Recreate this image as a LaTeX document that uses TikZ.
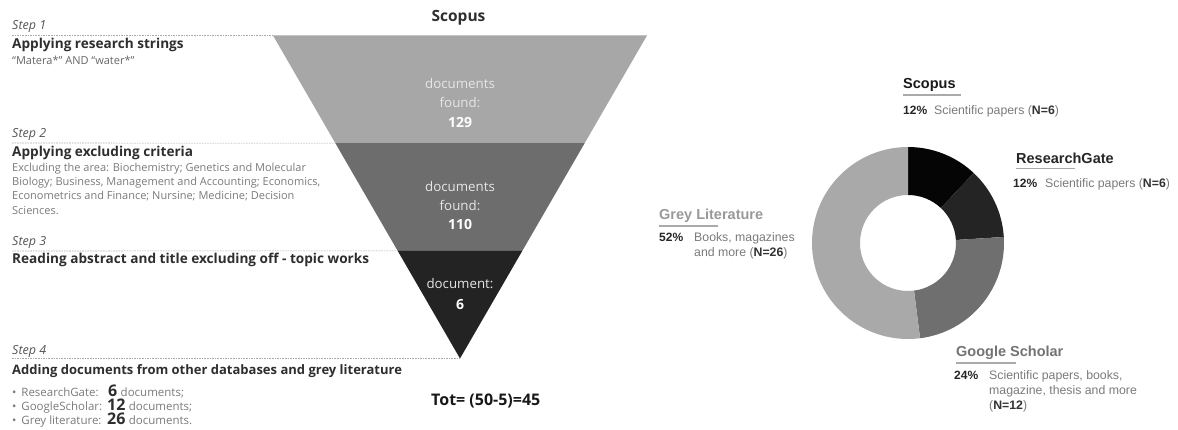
\documentclass[tikz,border=0pt]{standalone}
\usepackage{fontspec}
\setmainfont{Open Sans}
\newfontfamily\lab{Liberation Sans}
\usetikzlibrary{calc}
\definecolor{stepgrey}{HTML}{555555}
\definecolor{headgrey}{HTML}{2E2E2E}
\definecolor{bodygrey}{HTML}{7A7A7A}
\definecolor{guidegrey}{HTML}{AAAAAA}
\definecolor{bandA}{HTML}{A7A7A7}
\definecolor{bandB}{HTML}{6D6D6D}
\definecolor{bandC}{HTML}{232323}
\definecolor{segS}{HTML}{050505}
\definecolor{segR}{HTML}{242424}
\definecolor{segG}{HTML}{6F6F6F}
\definecolor{segL}{HTML}{A9A9A9}
\definecolor{ftxt}{HTML}{E6E6E6}
\begin{document}
\begin{tikzpicture}[x=1pt,y=-1pt,
  steplbl/.style={anchor=base west, inner sep=0, font=\fontsize{12.5}{14}\selectfont\itshape, text=stepgrey},
  head/.style={anchor=base west, inner sep=0, font=\fontsize{13.6}{15}\selectfont\bfseries, text=headgrey},
  body/.style={anchor=base west, inner sep=0, font=\fontsize{11}{13}\selectfont, text=bodygrey},
  bullet/.style={anchor=base west, inner sep=0, font=\fontsize{11.5}{13}\selectfont, text=bodygrey},
  num/.style={anchor=base west, inner sep=0, font=\fontsize{16}{17}\selectfont\bfseries, text=headgrey},
  guide/.style={draw=guidegrey, line width=0.6pt, dash pattern=on 1.6pt off 1pt},
  ftext/.style={anchor=base, inner sep=0, font=\fontsize{13.3}{15}\selectfont, text=ftxt},
  fnum/.style={anchor=base, inner sep=0, font=\fontsize{14}{15}\selectfont\bfseries, text=white},
  labhead/.style={anchor=base west, inner sep=0, font=\lab\fontsize{14.5}{16}\selectfont\bfseries},
  labpct/.style={anchor=base west, inner sep=0, font=\lab\fontsize{12}{14}\selectfont\bfseries, text=black!85},
  labtxt/.style={anchor=base west, inner sep=0, font=\lab\fontsize{12.3}{14}\selectfont, text=bodygrey},
  uline/.style={draw=guidegrey, line width=1.2pt}
]
\useasboundingbox (0,0) rectangle (1178,430);
% ---------- funnel ----------
\coordinate (TL) at (273,35.5);
\coordinate (TR) at (647,35.5);
\coordinate (AP) at (460,358.5);
\coordinate (L1) at ($(TL)!1/3!(AP)$);
\coordinate (R1) at ($(TR)!1/3!(AP)$);
\coordinate (L2) at ($(TL)!2/3!(AP)$);
\coordinate (R2) at ($(TR)!2/3!(AP)$);
\fill[bandA] (TL) -- (TR) -- (R1) -- (L1) -- cycle;
\fill[bandB] (L1) -- (R1) -- (R2) -- (L2) -- cycle;
\fill[bandC] (L2) -- (R2) -- (AP) -- cycle;
\draw[guidegrey!70, line width=0.5pt] (TL) -- (TR);

\node[anchor=base, inner sep=0, font=\fontsize{15.5}{17}\selectfont\bfseries, text=headgrey] (scop) at (458.5,22) {Scopus};

\node[ftext] (f1a) at (460,89) {documents};
\node[ftext] (f1b) at (460,108) {found:};
\node[fnum] (f1c) at (460,128) {129};
\node[ftext] (f2a) at (460,192) {documents};
\node[ftext] (f2b) at (460,211) {found:};
\node[fnum] (f2c) at (460,230) {110};
\node[ftext] (f3a) at (460,289) {document:};
\node[fnum] (f3b) at (460,309) {6};

% ---------- guides ----------
\coordinate (G1) at (12,35.5);
\coordinate (G2) at (12,143);
\coordinate (G3) at (12,251);
\coordinate (G4) at (12,358.5);
\draw[guide] (G1) -- (TL);
\draw[guide] (G2) -- (L1);
\draw[guide] (G3) -- (L2);
\draw[guide] (G4) -- (AP);

% ---------- steps ----------
\node[steplbl] (s1) at (12,30) {Step 1};
\node[head] (h1) at (12,49) {Applying research strings};
\node[body, text=black!60] (b1) at (12,65) {“Matera*” AND “water*”};

\node[steplbl] (s2) at (12,138) {Step 2};
\node[head] (h2) at (12,157) {Applying excluding criteria};
\node[body] (b2a) at (12,172) {Excluding the area: Biochemistry; Genetics and Molecular};
\node[body] (b2b) at (12,186) {Biology; Business, Management and Accounting; Economics,};
\node[body] (b2c) at (12,200) {Econometrics and Finance; Nursine; Medicine; Decision};
\node[body] (b2d) at (12,215) {Sciences.};

\node[steplbl] (s3) at (12,246) {Step 3};
\node[head] (h3) at (12,264) {Reading abstract and title excluding off - topic works};

\node[steplbl] (s4) at (12,354) {Step 4};
\node[head, font=\fontsize{13}{15}\selectfont\bfseries] (h4) at (12,374) {Adding documents from other databases and grey literature};
\node[bullet] (c1) at (12,396) {•\, ResearchGate:};
\node[bullet] (c2) at (12,410) {•\, GoogleScholar:};
\node[bullet] (c3) at (12,424) {•\, Grey literature:};
\node[num] (n1) at (108,396) {6};
\node[num] (n2) at (107,410) {12};
\node[num] (n3) at (107,424) {26};
\node[bullet, anchor=base west] (d1) at ([xshift=3pt]n1.base east) {documents;};
\node[bullet, anchor=base west] (d2) at ([xshift=3pt]n2.base east) {documents;};
\node[bullet, anchor=base west] (d3) at ([xshift=3pt]n3.base east) {documents.};

\node[anchor=base west, inner sep=0, font=\fontsize{16}{18}\selectfont\bfseries, text=black!90] (tot) at (431,405) {Tot= (50-5)=45};

% ---------- donut ----------
\begin{scope}[shift={(908,243)}, yscale=-1]
  \def\Ro{96}\def\Ri{48}
  \fill[segS] (90:\Ro) arc[start angle=90, end angle=46.8, radius=\Ro] -- (46.8:\Ri) arc[start angle=46.8, end angle=90, radius=\Ri] -- cycle;
  \fill[segR] (46.8:\Ro) arc[start angle=46.8, end angle=3.6, radius=\Ro] -- (3.6:\Ri) arc[start angle=3.6, end angle=46.8, radius=\Ri] -- cycle;
  \fill[segG] (3.6:\Ro) arc[start angle=3.6, end angle=-82.8, radius=\Ro] -- (-82.8:\Ri) arc[start angle=-82.8, end angle=3.6, radius=\Ri] -- cycle;
  \fill[segL] (-82.8:\Ro) arc[start angle=-82.8, end angle=-270, radius=\Ro] -- (-270:\Ri) arc[start angle=-270, end angle=-82.8, radius=\Ri] -- cycle;
\end{scope}

% ---------- donut labels ----------
\node[labhead, text=black!90] (ls) at (903,89) {Scopus};
\draw[uline] (903,95) -- (961,95);
\node[labpct] (ls1) at (903,115) {12\%};
\node[labtxt] (ls2) at (934,115) {Scientific papers ({\bfseries\color{black!80}N=6})};

\node[labhead, text=black!85] (lr) at (1016,164) {ResearchGate};
\draw[uline] (1016,168.5) -- (1075,168.5);
\node[labpct] (lr1) at (1013,188) {12\%};
\node[labtxt] (lr2) at (1045,188) {Scientific papers ({\bfseries\color{black!80}N=6})};

\node[labhead, text=black!40] (lg) at (659,220) {Grey Literature};
\draw[uline] (659,226) -- (718,226);
\node[labpct] (lg1) at (659,242) {52\%};
\node[labtxt] (lg2) at (694,242) {Books, magazines};
\node[labtxt] (lg3) at (694,257) {and more ({\bfseries\color{black!80}N=26})};

\node[labhead, text=black!55] (lgs) at (956,356) {Google Scholar};
\draw[uline] (956,363) -- (1016,363);
\node[labpct] (lgs1) at (954,379) {24\%};
\node[labtxt] (lgs2) at (989,379) {Scientific papers, books,};
\node[labtxt] (lgs3) at (989,394) {magazine, thesis and more};
\node[labtxt] (lgs4) at (989,409) {({\bfseries\color{black!80}N=12})};
\end{tikzpicture}
\end{document}
